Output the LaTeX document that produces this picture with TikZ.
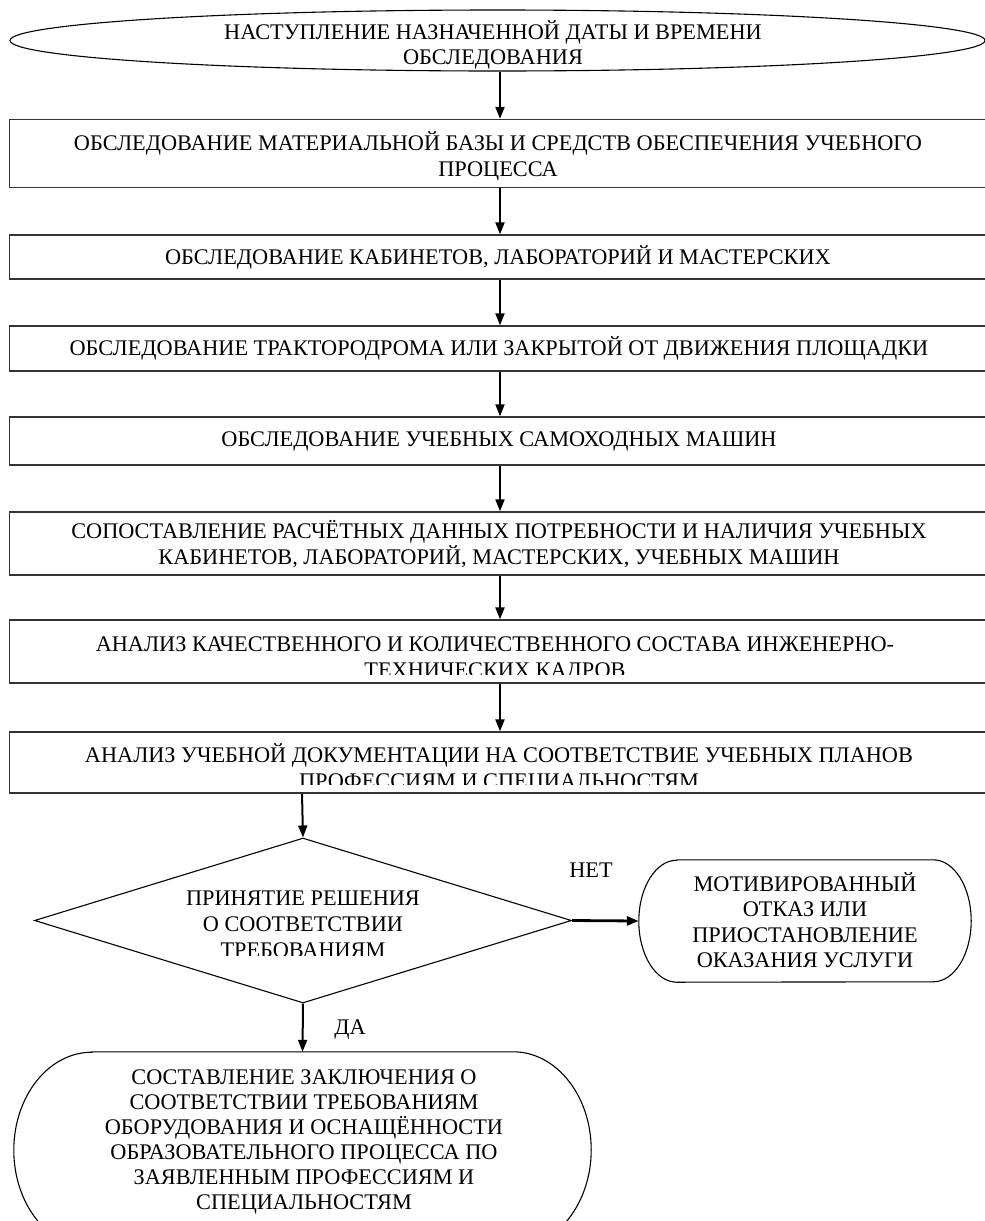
\documentclass[tikz,border=0pt]{standalone}
\usepackage{fontspec}
\setmainfont{Liberation Serif}
\usetikzlibrary{shapes.geometric,arrows.meta}

\tikzset{
  % text blocks are placed by the baseline of their last line
  txt/.style={font=\fontsize{22.3}{26}\selectfont, inner sep=0pt, align=center,
              text height=15pt, text depth=0pt, anchor=base},
  stepbox/.style={draw=black!80, line width=1.3pt, rectangle, inner sep=0pt, minimum width=985pt},
  endbox/.style={rectangle, inner sep=0pt},
  arr/.style={-{Triangle[length=12pt,width=9pt]}, line width=2pt},
  lbl/.style={font=\fontsize{22.3}{26}\selectfont, inner sep=0pt, text height=15pt, text depth=0pt}
}

% text of a box, cut off a little above the lower edge of the box
\newcommand\cliptext[4]{%
  \begin{scope}
    \clip ([yshift=-1pt]#1.north west) rectangle ([yshift=9pt]#1.south east);
    \node[txt] (#2) at (#3) {#4};
  \end{scope}}

% outline with flat top and bottom and half-elliptic ends: node, end width, half height
\newcommand\capsule[3]{%
  \draw[line width=1.1pt] ([xshift=#2]#1.north west) -- ([xshift=-#2]#1.north east)
    arc[start angle=90, end angle=-90, x radius=#2, y radius=#3]
    -- ([xshift=#2]#1.south west)
    arc[start angle=270, end angle=90, x radius=#2, y radius=#3] -- cycle;}

\begin{document}
\begin{tikzpicture}[x=1pt,y=-1pt]
  \useasboundingbox (0,0) rectangle (985,1221);
  \clip (0,0) rectangle (985,1221);

  % start event
  \node[draw, ellipse, line width=1.1pt, inner sep=0pt, minimum width=975pt, minimum height=61pt] (e0) at (497.5,40.5) {};
  \node[txt, font=\fontsize{22.3}{25}\selectfont] (t0) at (493,64) {НАСТУПЛЕНИЕ НАЗНАЧЕННОЙ ДАТЫ И ВРЕМЕНИ\\ОБСЛЕДОВАНИЯ};

  % sequence of steps
  \node[stepbox, minimum height=68pt] (b1) at (502,153.5) {};
  \node[stepbox, minimum height=44pt] (b2) at (502,257) {};
  \node[stepbox, minimum height=45pt] (b3) at (502,348.5) {};
  \node[stepbox, minimum height=48pt] (b4) at (502,441) {};
  \node[stepbox, minimum height=63pt] (b5) at (502,543.5) {};
  \node[stepbox, minimum height=63pt] (b6) at (502,651.5) {};
  \node[stepbox, minimum height=61pt] (b7) at (502,762.5) {};

  \cliptext{b1}{t1}{498,176.5}{ОБСЛЕДОВАНИЕ МАТЕРИАЛЬНОЙ БАЗЫ И СРЕДСТВ ОБЕСПЕЧЕНИЯ УЧЕБНОГО\\ПРОЦЕССА}
  \cliptext{b2}{t2}{498,264.5}{ОБСЛЕДОВАНИЕ КАБИНЕТОВ, ЛАБОРАТОРИЙ И МАСТЕРСКИХ}
  \cliptext{b3}{t3}{499,355.5}{ОБСЛЕДОВАНИЕ ТРАКТОРОДРОМА ИЛИ ЗАКРЫТОЙ ОТ ДВИЖЕНИЯ ПЛОЩАДКИ}
  \cliptext{b4}{t4}{499,446.5}{ОБСЛЕДОВАНИЕ УЧЕБНЫХ САМОХОДНЫХ МАШИН}
  \cliptext{b5}{t5}{499,564.5}{СОПОСТАВЛЕНИЕ РАСЧЁТНЫХ ДАННЫХ ПОТРЕБНОСТИ И НАЛИЧИЯ УЧЕБНЫХ\\КАБИНЕТОВ, ЛАБОРАТОРИЙ, МАСТЕРСКИХ, УЧЕБНЫХ МАШИН}
  \cliptext{b6}{t6}{495,677}{АНАЛИЗ КАЧЕСТВЕННОГО И КОЛИЧЕСТВЕННОГО СОСТАВА ИНЖЕНЕРНО-\\ТЕХНИЧЕСКИХ КАДРОВ}
  \cliptext{b7}{t7}{499,788}{АНАЛИЗ УЧЕБНОЙ ДОКУМЕНТАЦИИ НА СООТВЕТСТВИЕ УЧЕБНЫХ ПЛАНОВ\\ПРОФЕССИЯМ И СПЕЦИАЛЬНОСТЯМ}

  % decision
  \node[draw, diamond, line width=1.1pt, inner sep=0pt, minimum width=537pt, minimum height=165pt] (d) at (303,920.5) {};
  \begin{scope}
    \clip (150,870) rectangle (460,955);
    \node[txt] (td) at (303,957.5) {ПРИНЯТИЕ РЕШЕНИЯ\\О СООТВЕТСТВИИ\\ТРЕБОВАНИЯМ};
  \end{scope}

  % outcomes
  \node[endbox, minimum width=332pt, minimum height=122pt] (no) at (805,921) {};
  \capsule{no}{38pt}{61pt}
  \node[txt, font=\fontsize{22.3}{25.5}\selectfont] (tno) at (805,967.5) {МОТИВИРОВАННЫЙ\\ОТКАЗ ИЛИ\\ПРИОСТАНОВЛЕНИЕ\\ОКАЗАНИЯ УСЛУГИ};

  \node[endbox, minimum width=577pt, minimum height=196pt] (yes) at (302.5,1150) {};
  \capsule{yes}{78pt}{98pt}
  \node[txt, font=\fontsize{22.3}{25}\selectfont] (tyes) at (304,1209.5) {СОСТАВЛЕНИЕ ЗАКЛЮЧЕНИЯ О\\СООТВЕТСТВИИ ТРЕБОВАНИЯМ\\ОБОРУДОВАНИЯ И ОСНАЩЁННОСТИ\\ОБРАЗОВАТЕЛЬНОГО ПРОЦЕССА ПО\\ЗАЯВЛЕННЫМ ПРОФЕССИЯМ И\\СПЕЦИАЛЬНОСТЯМ};

  % connectors
  \coordinate (xa) at (500,0);
  \coordinate (xb) at (302,0);
  \draw[arr] (e0.south -| xa) -- (b1.north -| xa);
  \draw[arr] (b1.south -| xa) -- (b2.north -| xa);
  \draw[arr] (b2.south -| xa) -- (b3.north -| xa);
  \draw[arr] (b3.south -| xa) -- (b4.north -| xa);
  \draw[arr] (b4.south -| xa) -- (b5.north -| xa);
  \draw[arr] (b5.south -| xa) -- (b6.north -| xa);
  \draw[arr] (b6.south -| xa) -- (b7.north -| xa);
  \draw[arr] (b7.south -| xb) -- (d.north);
  \draw[arr, line width=2.8pt] (d.east) -- (no.west);
  \draw[arr] (d.south) -- (yes.north);

  \node[lbl] (lno) at (591,870) {НЕТ};
  \node[lbl] (lyes) at (350,1027) {ДА};
\end{tikzpicture}
\end{document}
